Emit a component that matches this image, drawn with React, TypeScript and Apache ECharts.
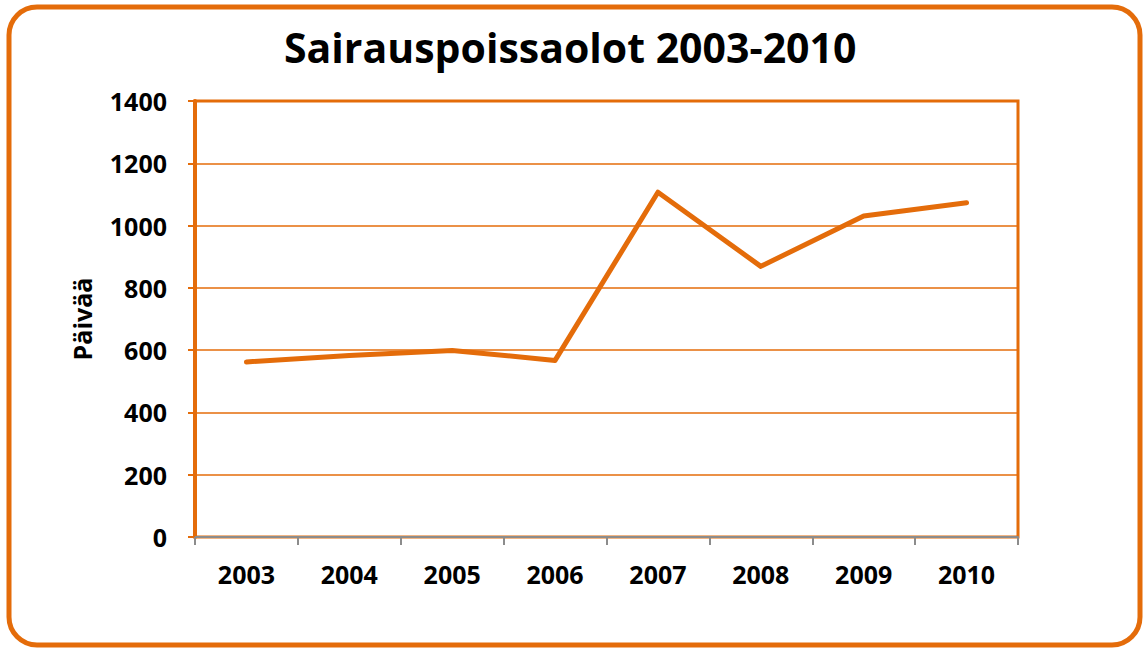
import React, { useEffect, useRef } from "react";
import * as echarts from "echarts";

const years = ["2003", "2004", "2005", "2006", "2007", "2008", "2009", "2010"];
const sickDays = [562, 583, 599, 567, 1107, 869, 1031, 1073];
const yTicks = { min: 0, max: 1400, interval: 200 };
const titleText = "Sairauspoissaolot 2003-2010";
const yName = "Päivää";

const ORANGE = "#E46C0A";
const FONT = "Open Sans";

export default function App() {
  const ref = useRef<HTMLDivElement>(null);
  useEffect(() => {
    const chart = echarts.init(ref.current!, null, { renderer: "svg" });
    chart.setOption({
      animation: false,
      backgroundColor: "#fff",
      title: {
        text: titleText,
        left: 279,
        top: 21,
        textStyle: { fontFamily: FONT, fontWeight: "bold", fontSize: 41, color: "#000" },
      },
      graphic: [
        {
          type: "rect",
          shape: { x: 9, y: 7, width: 1131, height: 638, r: 28 },
          style: { fill: "none", stroke: ORANGE, lineWidth: 5 },
          z: 100,
        },
      ],
      grid: {
        left: 195,
        right: 125,
        top: 101,
        bottom: 111,
        show: true,
        borderColor: ORANGE,
        borderWidth: 3,
      },
      xAxis: {
        type: "category",
        data: years,
        boundaryGap: true,
        axisLine: { lineStyle: { color: "#8c8c8c", width: 2 } },
        axisTick: { show: true, length: 8, lineStyle: { color: "#8c8c8c", width: 2 } },
        axisLabel: { margin: 24, fontFamily: FONT, fontWeight: "bold", fontSize: 25, color: "#000" },
      },
      yAxis: {
        type: "value",
        min: yTicks.min,
        max: yTicks.max,
        interval: yTicks.interval,
        name: yName,
        nameLocation: "middle",
        nameGap: 101,
        nameRotate: 90,
        nameTextStyle: { fontFamily: FONT, fontWeight: "bold", fontSize: 25, color: "#000" },
        axisLine: { show: true, lineStyle: { color: ORANGE, width: 4 } },
        axisTick: { show: true, length: 7, lineStyle: { color: ORANGE, width: 2 } },
        axisLabel: {
          margin: 28,
          fontFamily: FONT,
          fontWeight: "bold",
          fontSize: 25,
          color: "#000",
          formatter: (v: number) => String(v),
        },
        splitLine: { show: true, lineStyle: { color: ORANGE, width: 1.5 } },
      },
      series: [
        {
          type: "line",
          data: sickDays,
          symbol: "none",
          lineStyle: { color: ORANGE, width: 5, cap: "round", join: "round" },
        },
      ],
    });
    return () => chart.dispose();
  }, []);
  return (
    <div
      ref={ref}
      style={{ position: "absolute", left: 0, top: 0, width: 1143, height: 648 }}
    />
  );
}
